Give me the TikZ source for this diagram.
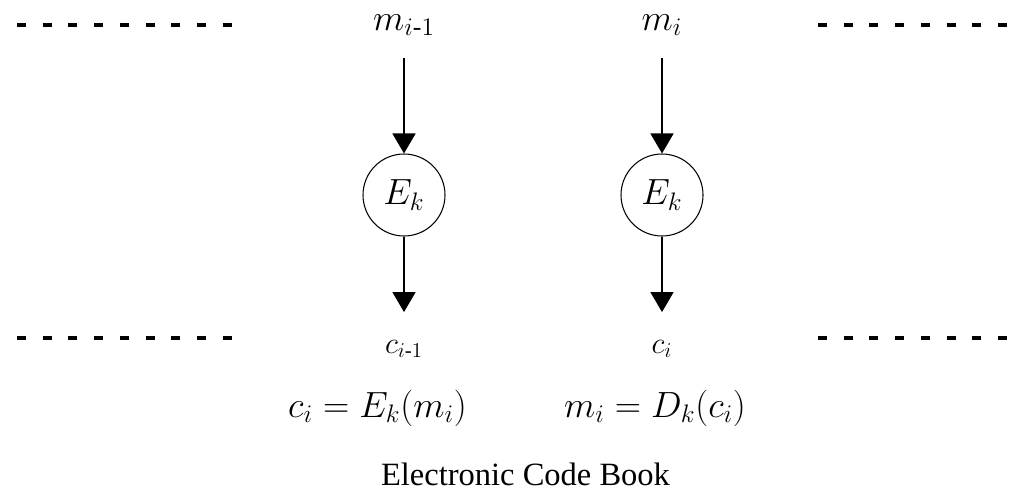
\documentclass[tikz,border=0pt]{standalone}
\usepackage{amsmath}
\usepackage{fontspec}
\setmainfont{Liberation Serif}
\usepackage{tikz}
\usetikzlibrary{arrows.meta, positioning}

\tikzset{
  circ/.style={draw, circle, line width=0.6pt, minimum size=1.64cm, inner sep=0pt,
    font=\fontsize{20}{22}\selectfont},
  mlbl/.style={anchor=base, inner xsep=0pt, inner ysep=0.45cm, font=\fontsize{21}{23}\selectfont},
  clbl/.style={anchor=base, inner xsep=0pt, inner ysep=0.55cm, font=\fontsize{17}{19}\selectfont},
  eqn/.style={anchor=base, font=\fontsize{19.5}{21}\selectfont},
  flow/.style={line width=0.85pt, -{Triangle[length=0.4cm, width=0.46cm]}},
  dots/.style={line width=0.09cm, dash pattern=on 0.18cm off 0.334cm}
}

\begin{document}
\begin{tikzpicture}[x=1cm, y=1cm]
\useasboundingbox (0,0) rectangle (20.36,9.8);
% the two blocks
\node[circ] (e1) at (8.08,5.9) {$E_k$};
\node[circ] (e2) at (13.24,5.9) {$E_k$};
\node[mlbl] (m1) at (8.08,9.2) {$m_{i\text{-}1}$};
\node[mlbl] (m2) at (13.24,9.2) {$m_i$};
\node[clbl] (c1) at (8.08,2.74) {$c_{i\text{-}1}$};
\node[clbl] (c2) at (13.24,2.74) {$c_i$};
\draw[flow] (m1) -- (e1);
\draw[flow] (m2) -- (e2);
\draw[flow] (e1) -- (c1);
\draw[flow] (e2) -- (c2);
% more blocks on either side
\draw[dots] (0.34,9.3) -- (4.64,9.3);
\draw[dots] (16.36,9.3) -- (20.14,9.3);
\draw[dots] (0.34,3.04) -- (4.64,3.04);
\draw[dots] (16.36,3.04) -- (20.14,3.04);
% formulas and caption
\node[eqn] (enc) at (7.55,1.46) {$c_i = E_k(m_i)$};
\node[eqn] (dec) at (13.1,1.46) {$m_i = D_k(c_i)$};
\node[anchor=base, font=\fontsize{18.5}{20}\selectfont] (cap) at (10.51,0.1) {Electronic Code Book};
\end{tikzpicture}
\end{document}
